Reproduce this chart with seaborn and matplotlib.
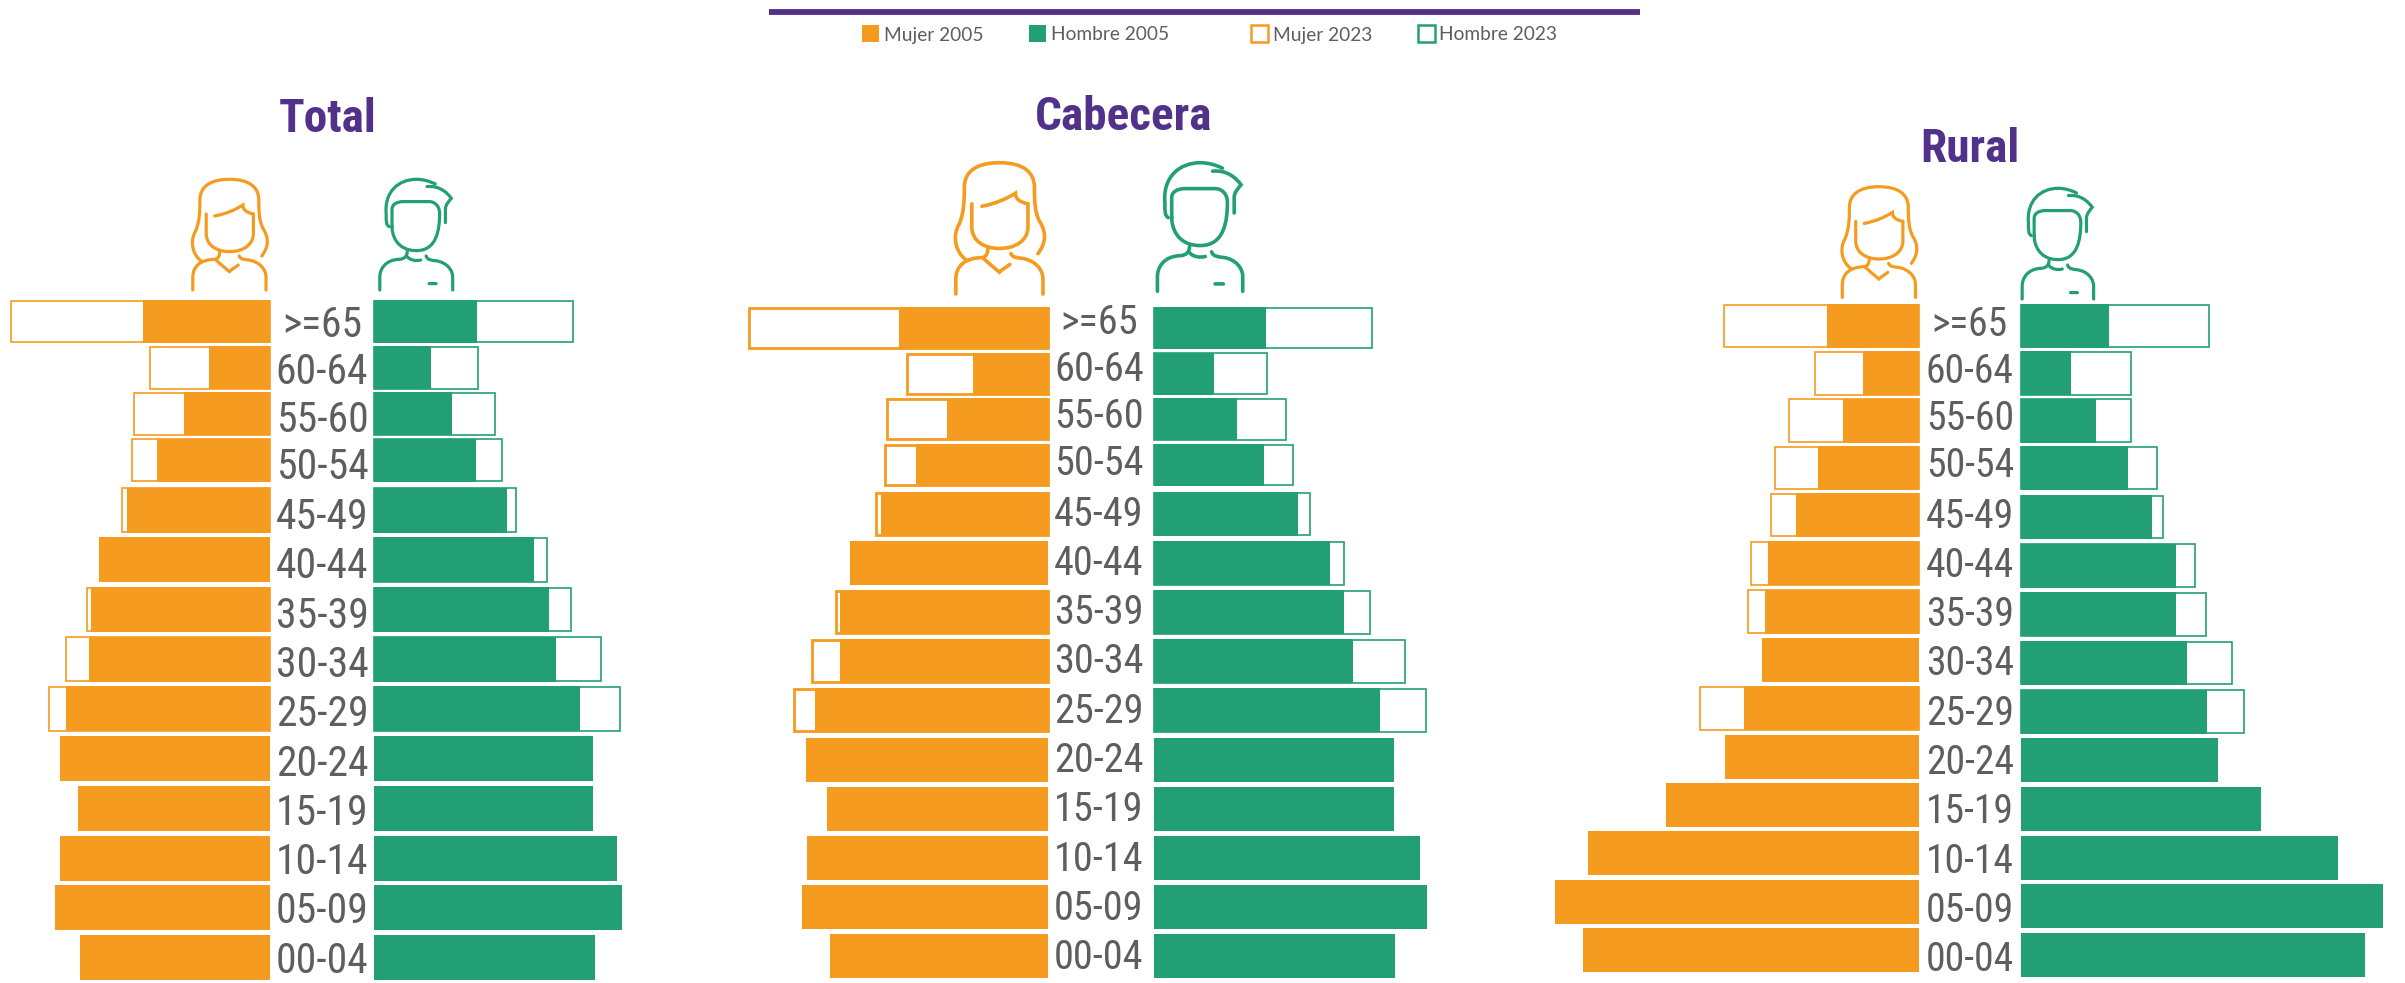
import numpy as np
import pandas as pd
import matplotlib
matplotlib.use('Agg')
import matplotlib.pyplot as plt
import seaborn as sns
from matplotlib.path import Path
from matplotlib.patches import PathPatch, Rectangle

nan = np.nan

EDAD = ['>=65','60-64','55-60','50-54','45-49','40-44','35-39','30-34','25-29',
        '20-24','15-19','10-14','05-09','00-04']

# bar lengths, 1 unit = 1 pixel of the reference
# nan = the 2023 bar is hidden behind the 2005 bar
TOTAL_M05 = [126.7,60.6,85.9,112.8,142.7,170.9,179.3,180.6,203.7,209.6,191.9,209.6,214.6,189.8]
TOTAL_M23 = [259.3,120.4,135.9,138.0,148.1,nan,182.7,204.5,221.0,nan,nan,nan,nan,nan]
TOTAL_H05 = [102.7,56.8,77.9,101.9,133.0,159.9,174.7,181.8,205.8,218.9,218.9,242.8,247.9,221.0]
TOTAL_H23 = [199.0,104.4,121.2,127.5,141.8,173.0,197.0,227.3,245.8,nan,nan,nan,nan,nan]

CAB_M05 = [148.7,75.0,101.3,132.1,167.0,198.2,208.0,208.0,233.0,242.0,221.0,241.0,246.0,217.9]
CAB_M23 = [298.7,141.5,160.7,162.9,172.3,nan,212.0,236.2,254.0,nan,nan,nan,nan,nan]
CAB_H05 = [112.0,60.3,83.0,110.3,144.2,176.3,190.2,199.1,226.3,240.2,240.2,266.0,273.2,241.1]
CAB_H23 = [217.9,112.9,132.1,138.8,156.3,190.2,215.6,251.3,271.9,nan,nan,nan,nan,nan]

RUR_M05 = [92.0,56.3,76.3,101.3,123.2,151.2,153.9,157.2,174.8,194.2,253.2,330.9,364.0,335.9]
RUR_M23 = [195.1,103.6,129.9,144.2,147.8,167.7,171.0,nan,219.0,nan,nan,nan,nan,nan]
RUR_H05 = [87.9,50.0,75.0,107.1,130.8,155.0,155.0,166.0,185.9,196.9,239.9,317.2,361.8,343.6]
RUR_H23 = [187.5,110.3,110.3,135.7,142.0,173.7,184.8,210.7,223.4,nan,nan,nan,nan,nan]

NARANJA = '#F59B20'
VERDE = '#229F74'
MORADO = '#52318A'
GRIS = '#5E5E5E'

W, H = 2405, 983
sns.set_theme(style='white')
ANGOSTA = ['Liberation Sans Narrow', 'Roboto Condensed', 'Roboto', 'DejaVu Sans']
ANCHO_EJE = 370

fig = plt.figure(figsize=(W/100, H/100), dpi=100)
fig.patch.set_facecolor('white')

# overlay in reference pixels for the rule, legend, icons and texts
over = fig.add_axes([0, 0, 1, 1], zorder=5)
over.set_xlim(0, W)
over.set_ylim(H, 0)
over.axis('off')


def eje(base, lado, y_a, y_b, n):
    p = (y_b - y_a) / (n - 1)
    arriba = y_a - p/2
    abajo = y_b + p/2
    left = base - ANCHO_EJE if lado == 'M' else base
    ax = fig.add_axes([left/W, 1 - abajo/H, ANCHO_EJE/W, (abajo-arriba)/H])
    ax.patch.set_alpha(0)
    return ax, p


def barras(df, col05, col23, color, base, lado, y_a, y_b, alto, lw):
    n = len(df)
    ax, p = eje(base, lado, y_a, y_b, n)
    sns.barplot(data=df, y='edad', x=col23, order=list(df.edad), orient='h', fill=False,
                color=color, linewidth=lw, width=(alto-lw)/p, errorbar=None, ax=ax)
    sns.barplot(data=df, y='edad', x=col05, order=list(df.edad), orient='h', color=color,
                saturation=1, width=alto/p, linewidth=0, errorbar=None, ax=ax)
    for b in ax.patches:
        b.set_clip_on(False)
    ax.set_xlim((ANCHO_EJE, 0) if lado == 'M' else (0, ANCHO_EJE))
    ax.set_ylim(n-0.5, -0.5)
    ax.axis('off')


def panel(m05, m23, h05, h23, base_m, base_h, filas_m, filas_h, altos, lws):
    df = pd.DataFrame({'edad': EDAD, 'm05': m05, 'm23': m23, 'h05': h05, 'h23': h23})
    # the four top rows sit closer together than the rest
    sup, inf = df.iloc[:4], df.iloc[4:]
    barras(sup, 'm05', 'm23', NARANJA, base_m, 'M', filas_m[0], filas_m[1], altos[0], lws[0])
    barras(inf, 'm05', 'm23', NARANJA, base_m, 'M', filas_m[2], filas_m[3], altos[1], lws[0])
    barras(sup, 'h05', 'h23', VERDE, base_h, 'H', filas_h[0], filas_h[1], altos[0], lws[1])
    barras(inf, 'h05', 'h23', VERDE, base_h, 'H', filas_h[2], filas_h[3], altos[1], lws[1])


panel(TOTAL_M05, TOTAL_M23, TOTAL_H05, TOTAL_H23, 270, 374,
      (321.5, 460, 510, 957.5), (321.5, 460, 510, 957.5), (43, 45), (1.2, 1.2))
panel(CAB_M05, CAB_M23, CAB_H05, CAB_H23, 1048, 1154,
      (328, 465, 514, 956), (328, 465, 514, 956), (42, 44), (2.0, 1.2))
panel(RUR_M05, RUR_M23, RUR_H05, RUR_H23, 1919, 2021,
      (326, 468, 515, 950), (326, 468, 517, 955), (44, 44), (1.2, 1.2))

# age labels, same tighter spacing in the top rows
for cx, y0, tam in [(322, 321, 30), (1099, 318, 29), (1970, 320, 28.5)]:
    for i, edad in enumerate(EDAD):
        dy = i*47.3 if i < 4 else 192 + (i-4)*49.3
        over.text(cx, y0 + dy, edad, family=ANGOSTA, fontsize=tam, color=GRIS,
                  ha='center', va='center_baseline')

# panel titles
for cx, cy, t in [(328, 114, 'Total'), (1124, 112, 'Cabecera'), (1970, 144, 'Rural')]:
    over.text(cx, cy, t, family=ANGOSTA, fontsize=34, fontweight='bold', color=MORADO,
              ha='center', va='center_baseline')

# top rule and legend
over.plot([769, 1640], [12, 12], color=MORADO, lw=4.2, solid_capstyle='butt')
for x0, x1, col, relleno, tx, t in [
        (862, 879, NARANJA, True, 884, 'Mujer 2005'),
        (1029, 1046, VERDE, True, 1051, 'Hombre 2005'),
        (1251, 1268, NARANJA, False, 1273, 'Mujer 2023'),
        (1418, 1435, VERDE, False, 1439, 'Hombre 2023')]:
    over.add_patch(Rectangle((x0, 25), x1-x0, 17, facecolor=col if relleno else 'white',
                             edgecolor=col, lw=0 if relleno else 1.8))
    over.text(tx, 33.5, t, family='Lato', fontsize=13.8, color=GRIS, ha='left', va='center_baseline')

# person icons, drawn in a 77x111 box; each stroke is 1 + 3n bezier points
MUJER = [
    [(70.3,76.7), (76.6,68), (78,60), (72,50), (67.3,42), (67.3,30), (67.3,20.7), (67.3,8), (58,0), (37.9,0),
     (18,0), (8.4,8), (8.4,20.7), (8.4,30), (8.4,42), (4,52), (-2,62), (1,76), (10.5,82.3)],
    [(14.7,34.7), (14.7,42), (14.7,50), (14.7,54), (14.7,66), (25,72.3), (37.9,72.3),
     (51,72.3), (61.9,66), (61.9,54), (61.9,48), (61.9,41), (61.9,34.7)],
    [(23.2,36.7), (33,35), (43,31), (51.4,25.7), (51.4,30), (54,33), (61.9,34.7)],
    [(28.2,72.3), (28.2,76), (27,79), (24,80), (8,80), (1.3,88), (1.3,98), (1.3,102), (1.3,106), (1.3,110.7)],
    [(24.5,80.7), (28,84), (34,89), (37.9,92.3), (40,90), (44,88), (46.7,85.7)],
    [(47.6,76.7), (49,80), (52,80), (56,80.5), (68,82), (74.5,90), (74.5,98), (74.5,102), (74.5,106), (74.5,110.7)],
]
HOMBRE = [
    [(10,47.3), (7,45), (7.2,43), (7.2,35), (5,12), (20,0), (37.5,0), (44,0), (51,2), (56.3,4.7)],
    [(48,7.3), (60,6), (68,13), (72.3,19), (70,22), (66.4,25), (66.4,30), (66.4,34), (66.4,38), (66.4,43.3)],
    [(13,47.3), (13,40), (13,36), (13,30), (13,25), (18,22.3), (24.4,22.3), (33,22.3), (42,22.3), (50,22.3),
     (56,22.3), (60.6,27), (60.6,34), (60.6,50), (58,71.3), (37.5,71.3), (17,71.3), (13,55), (13,47.3)],
    [(28.2,72.3), (28.2,77), (25,80), (20,80), (6,80.7), (0.8,90), (0.8,98), (0.8,102), (0.8,106), (0.8,110.7)],
    [(28.2,77.3), (31,81), (37,82), (41.7,80.7)],
    [(47.1,76.7), (48.5,81), (53,81), (57,81.5), (68,83), (73.7,91), (73.7,98), (73.7,102), (73.7,106), (73.7,110.7)],
    [(50.1,104.3), (52,104.3), (55,104.3), (57.2,104.3)],
]


def persona(trazos, x, y, sx, sy, color, lw):
    for tr in trazos:
        pts = [(x + a*sx, y + b*sy) for a, b in tr]
        cod = [Path.MOVETO] + [Path.CURVE4]*(len(pts)-1)
        over.add_patch(PathPatch(Path(pts, cod), fill=False, edgecolor=color, lw=lw, capstyle='round'))


persona(MUJER, 191.5, 179.3, 1.0, 1.0, NARANJA, 2.3)
persona(HOMBRE, 379, 179.3, 1.0, 1.0, VERDE, 2.3)
persona(MUJER, 954.3, 162.7, 1.19, 1.186, NARANJA, 2.6)
persona(HOMBRE, 1156.5, 162.7, 1.17, 1.162, VERDE, 2.6)
persona(MUJER, 1841, 186.7, 1.0, 1.0, NARANJA, 2.3)
persona(HOMBRE, 2021.4, 188.3, 0.98, 1.0, VERDE, 2.3)

fig.savefig('out.png', dpi=100, facecolor='white')
plt.close()
